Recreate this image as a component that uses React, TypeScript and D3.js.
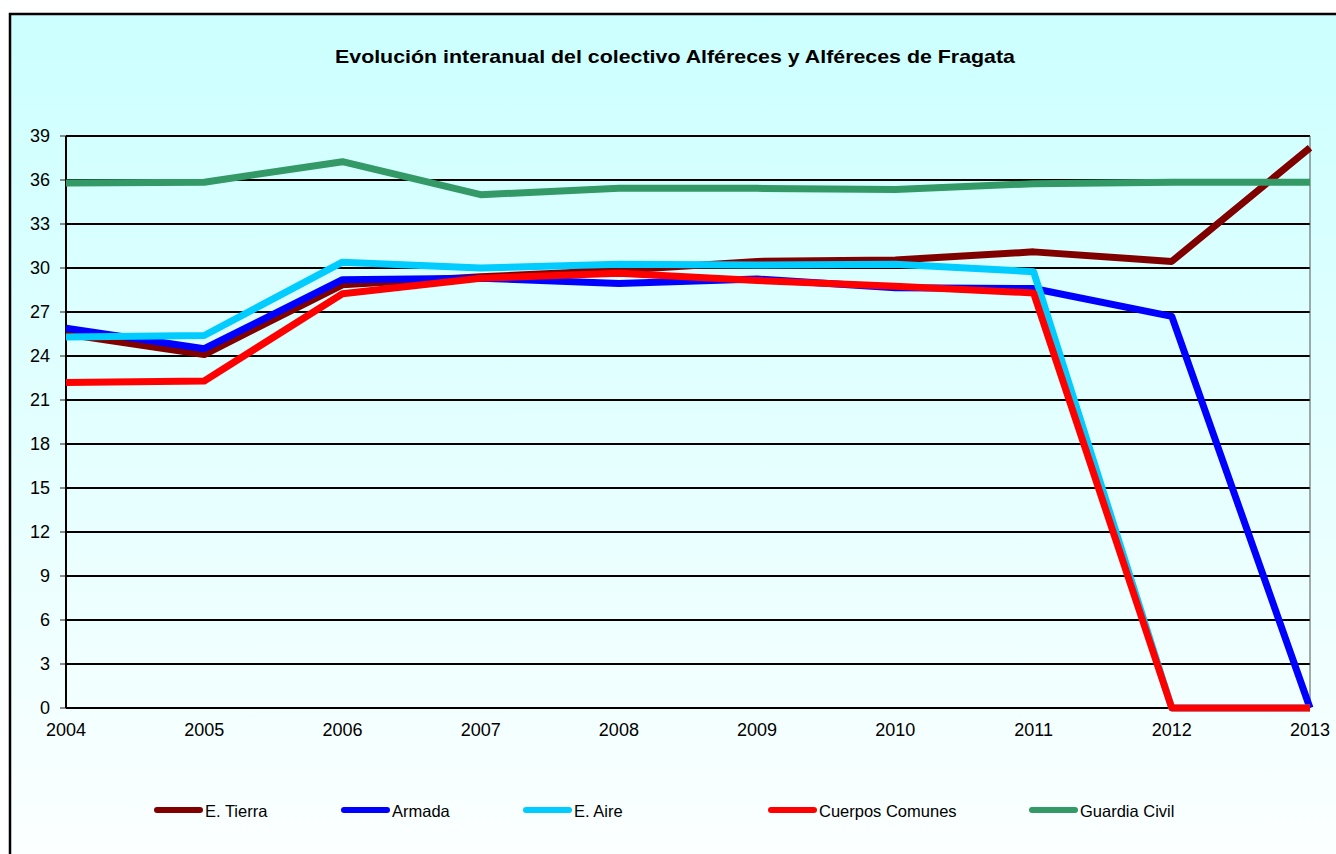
import React from "react";
import * as d3 from "d3";

const years = ["2004", "2005", "2006", "2007", "2008", "2009", "2010", "2011", "2012", "2013"];
const eTierra = [25.5, 24.1, 28.85, 29.4, 29.85, 30.45, 30.55, 31.1, 30.45, 38.2];
const armada = [25.9, 24.5, 29.2, 29.3, 28.95, 29.25, 28.65, 28.6, 26.7, 0];
const eAire = [25.3, 25.4, 30.4, 30.0, 30.25, 30.2, 30.25, 29.75, 0, 0];
const cuerposComunes = [22.2, 22.3, 28.25, 29.3, 29.65, 29.15, 28.75, 28.3, 0, 0];
const guardiaCivil = [35.8, 35.85, 37.25, 35.0, 35.43, 35.43, 35.36, 35.75, 35.84, 35.85];
const yTicks = [0, 3, 6, 9, 12, 15, 18, 21, 24, 27, 30, 33, 36, 39];

const seriesNames = ["E. Tierra", "Armada", "E. Aire", "Cuerpos Comunes", "Guardia Civil"];
const seriesValues = [eTierra, armada, eAire, cuerposComunes, guardiaCivil];
const seriesColors = ["#800000", "#0000FF", "#00CCFF", "#FF0000", "#339966"];

const title = "Evolución interanual del colectivo Alféreces y Alféreces de Fragata";

export default function App() {
  const W = 1336;
  const H = 854;
  const left = 66, right = 1310, top = 136, bottom = 708;
  const x = d3.scalePoint<string>().domain(years).range([left, right]);
  const y = d3.scaleLinear().domain([0, 39]).range([bottom, top]);
  const line = d3
    .line<number>()
    .x((_, i) => x(years[i]) as number)
    .y((d) => y(d));

  const legendX = [154, 341, 523, 768, 1029];
  const font = "'Liberation Sans', Arial, sans-serif";

  return (
    <svg
      width={W}
      height={H}
      style={{ position: "fixed", left: 0, top: 0, display: "block" }}
      fontFamily={font}
    >
      <defs>
        <linearGradient id="bg" x1="0" y1="0" x2="0" y2="1">
          <stop offset="0%" stopColor="#CCFFFF" />
          <stop offset="100%" stopColor="#FCFFFF" />
        </linearGradient>
      </defs>
      <rect x={0} y={0} width={W} height={H} fill="#ffffff" />
      <rect x={10} y={14} width={W} height={H} fill="url(#bg)" stroke="#000" strokeWidth={2.5} />
      <text
        x={335}
        y={63}
        fontSize={19}
        fontWeight="bold"
        fill="#000"
        textLength={680}
        lengthAdjust="spacingAndGlyphs"
      >
        {title}
      </text>
      {yTicks.map((t) => (
        <g key={t}>
          <line x1={left} x2={right} y1={y(t)} y2={y(t)} stroke="#000" strokeWidth={2} />
          <line x1={left - 6} x2={left} y1={y(t)} y2={y(t)} stroke="#666" strokeWidth={1.5} />
          <text x={50} y={y(t) + 6} textAnchor="end" fontSize={18} fill="#000">
            {t}
          </text>
        </g>
      ))}
      <line x1={left} x2={left} y1={top} y2={bottom} stroke="#000" strokeWidth={2} />
      <line x1={right} x2={right} y1={top} y2={bottom} stroke="#555" strokeWidth={1} />
      {years.map((yr) => (
        <text key={yr} x={x(yr) as number} y={736} textAnchor="middle" fontSize={18} fill="#000">
          {yr}
        </text>
      ))}
      {seriesValues.map((vals, i) => (
        <path
          key={seriesNames[i]}
          d={line(vals) || ""}
          fill="none"
          stroke={seriesColors[i]}
          strokeWidth={7}
          strokeLinejoin="round"
        />
      ))}
      {seriesNames.map((name, i) => (
        <g key={name}>
          <line
            x1={legendX[i] + 3}
            x2={legendX[i] + 46}
            y1={810}
            y2={810}
            stroke={seriesColors[i]}
            strokeWidth={6}
            strokeLinecap="round"
          />
          <text x={legendX[i] + 51} y={817} fontSize={16.5} fill="#000">
            {name}
          </text>
        </g>
      ))}
    </svg>
  );
}
